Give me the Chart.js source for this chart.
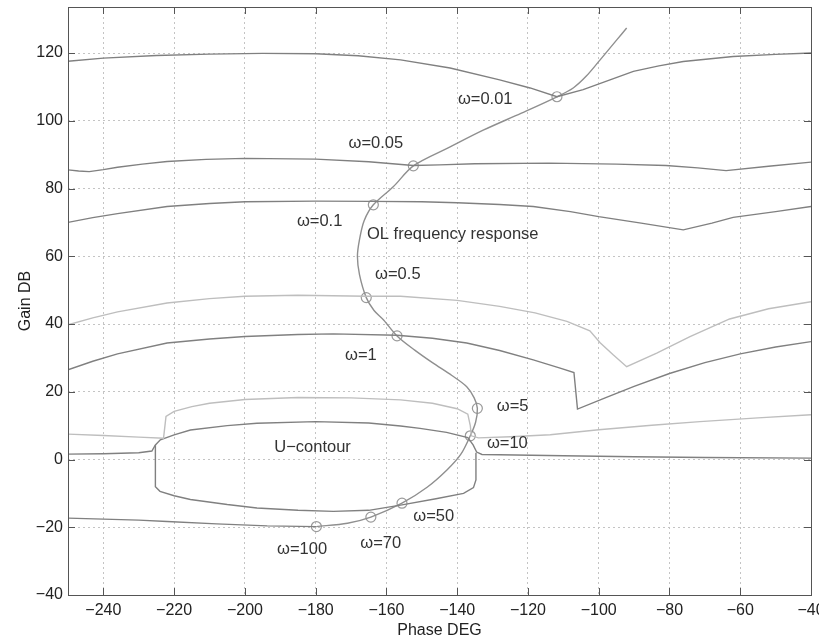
<!DOCTYPE html>
<html>
<head>
<meta charset="utf-8">
<script src="https://cdn.jsdelivr.net/npm/chart.js@4.4.1/dist/chart.umd.min.js"></script>
<style>
html,body{margin:0;padding:0;background:#ffffff;}
#wrap{width:819px;height:642px;position:relative;}
</style>
</head>
<body>
<div id="wrap"><canvas id="c" width="819" height="642"></canvas></div>
<script>
// ---- tick labels ----
const xTicks = [-240,-220,-200,-180,-160,-140,-120,-100,-80,-60,-40];
const yTicks = [-40,-20,0,20,40,60,80,100,120];

// ---- QFT bounds (phase deg, gain dB) ----
const boundW001 = [[-250,117.6],[-240,118.5],[-225,119.3],[-210,119.7],[-195,119.9],[-180,119.8],[-168,119.2],[-156,118.0],[-142,115.6],[-128,112.1],[-119.4,109.7],[-111.8,107.1],[-104.4,109.2],[-97,112.0],[-90.2,114.6],[-83,116.2],[-76.1,117.5],[-62,119.0],[-50,119.6],[-40,120.0]];
const boundW005 = [[-250,85.5],[-247,85.2],[-244,85.0],[-240,85.6],[-236,86.3],[-229,87.2],[-222,88.0],[-211,88.6],[-200,88.9],[-180,88.7],[-165,87.9],[-152.4,86.8],[-145,87.0],[-135,87.3],[-114,87.5],[-95,87.2],[-81,86.8],[-72,86.1],[-64,85.3],[-52,86.6],[-40,87.8]];
const boundW01 = [[-250,70.0],[-243,71.4],[-236,72.6],[-222,74.7],[-210,75.6],[-200,76.1],[-180,76.3],[-164,76.2],[-150,76.1],[-140,75.8],[-128,75.3],[-118.5,74.7],[-108,73.2],[-100,71.7],[-88,69.8],[-76.1,67.8],[-68,69.8],[-62,71.5],[-50,73.2],[-40,74.7]];
const boundW05 = [[-250,39.8],[-243,41.8],[-236,43.6],[-222,46.2],[-210,47.5],[-200,48.2],[-185,48.5],[-165.5,48.2],[-156,48.2],[-140,47.0],[-128,45.2],[-118,43.3],[-109,40.8],[-102.5,38.0],[-99.6,34.5],[-96,31.0],[-92.1,27.4],[-83.6,31.4],[-74.2,36.3],[-63,41.5],[-52,44.5],[-40,46.6]];
const boundW1 = [[-250,26.5],[-243,29.0],[-236,31.2],[-222,34.4],[-210,35.6],[-200,36.3],[-185,36.9],[-175,37.1],[-157,36.7],[-147,35.8],[-137.3,34.4],[-128,32.2],[-118.5,29.4],[-110.9,27.0],[-107,25.7],[-106,14.9],[-98,18.3],[-90,21.6],[-80,25.4],[-70,28.6],[-60,31.2],[-50,33.2],[-40,34.8]];
const boundW5 = [[-250,7.5],[-240,7.1],[-230,6.6],[-223,6.3],[-222.3,12.7],[-220,14.2],[-215,15.6],[-210,16.6],[-200,17.7],[-185,18.3],[-170,18.2],[-156,17.6],[-147,16.6],[-140,15.0],[-137,13.4],[-136.3,10.0],[-136,7.0],[-134,6.4],[-125,6.7],[-113.7,7.3],[-100,8.8],[-85,10.1],[-71.4,11.2],[-55,12.3],[-40,13.2]];
const boundW10 = [[-250,1.6],[-240,1.7],[-230,2.0],[-226.3,2.5],[-225.3,4.3],[-223.9,5.8],[-220,7.3],[-215.4,8.7],[-205,10.0],[-196.6,10.7],[-180,11.2],[-165,10.8],[-156,9.9],[-150.5,9.2],[-143,8.0],[-137,6.5],[-135.5,4.3],[-134.5,2.2],[-133,1.5],[-128,1.4],[-110,1.1],[-90,0.8],[-70,0.6],[-40,0.4]];
const uContourLower = [[-225.3,4.3],[-225.3,-8.0],[-224,-9.4],[-220,-10.7],[-215.4,-11.8],[-205,-13.3],[-196.6,-14.3],[-185,-15.0],[-175,-15.3],[-165,-15.0],[-155.6,-13.4],[-146,-11.6],[-138.2,-10.0],[-135.4,-8.3],[-134.7,-6.0],[-134.7,2.0]];
const boundW100 = [[-250,-17.3],[-240,-17.6],[-230,-17.9],[-222,-18.3],[-208,-19.0],[-193.7,-19.6],[-179.8,-19.8]];

// ---- open-loop frequency response ----
const olResponse = [[-92.1,127.4],[-94.9,123.9],[-99.6,118.0],[-103.5,113.2],[-107.2,109.7],[-111.8,107.1],[-122,102.2],[-132.5,97.3],[-142,92.3],[-152.4,86.7],[-158,80.6],[-163.7,75.2],[-166.3,70.5],[-167.6,65.0],[-168.2,60.0],[-167.6,54.5],[-165.7,47.8],[-163.5,44.0],[-160.8,41.2],[-157,36.5],[-152,32.3],[-147,28.6],[-141.5,24.8],[-137.3,21.5],[-135.2,18.2],[-134.3,15.1],[-134.8,11.0],[-136.3,7.0],[-139,1.5],[-142.9,-3.1],[-148.5,-8.2],[-155.6,-12.9],[-164.4,-17.0],[-171,-18.8],[-179.8,-19.8]];
const freqMarkers = [[-111.8,107.1],[-152.4,86.7],[-163.7,75.2],[-165.7,47.8],[-157,36.5],[-134.3,15.1],[-136.3,7.0],[-155.6,-12.9],[-164.4,-17.0],[-179.8,-19.8]];

// ---- text annotations ----
const labelTexts = ['ω=0.01','ω=0.05','ω=0.1','OL frequency response','ω=0.5','ω=1','ω=5','ω=10','U\u2212contour','ω=50','ω=70','ω=100'];
const labelX = [-139.8,-170.7,-185.3,-165.5,-163.2,-171.7,-128.8,-131.6,-191.7,-152.4,-167.4,-190.9];
const labelY = [106.2,93.4,70.3,66.3,54.5,30.6,15.6,4.6,3.5,-16.9,-24.7,-26.7];

const toPts = arr => arr.map(p => ({x:p[0], y:p[1]}));
const DARK = '#808080', LIGHT = '#bebebe', OLC = '#8f8f8f';
function lineSet(arr, color, tension){
  return {data: toPts(arr), showLine:true, borderColor:color, borderWidth:1.4, pointRadius:0, pointHoverRadius:0, tension: tension||0, fill:false};
}

const boxPlugin = {
  id:'box',
  afterDatasetsDraw(chart){
    const {ctx, chartArea:a, scales} = chart;
    ctx.save();
    ctx.strokeStyle = '#555';
    ctx.lineWidth = 1;
    ctx.strokeRect(a.left+0.5, a.top+0.5, a.right-a.left, a.bottom-a.top);
    ctx.beginPath();
    const tl = 7;
    xTicks.forEach(v => {
      const px = Math.round(scales.x.getPixelForValue(v))+0.5;
      ctx.moveTo(px, a.bottom); ctx.lineTo(px, a.bottom-tl);
      ctx.moveTo(px, a.top); ctx.lineTo(px, a.top+tl);
    });
    yTicks.forEach(v => {
      const py = Math.round(scales.y.getPixelForValue(v))+0.5;
      ctx.moveTo(a.left, py); ctx.lineTo(a.left+tl, py);
      ctx.moveTo(a.right, py); ctx.lineTo(a.right-tl, py);
    });
    ctx.stroke();
    // annotations
    ctx.fillStyle = '#333';
    ctx.font = '16.5px "Liberation Sans", Arial, sans-serif';
    ctx.textAlign = 'left';
    ctx.textBaseline = 'middle';
    labelTexts.forEach((t,i) => {
      ctx.fillText(t, scales.x.getPixelForValue(labelX[i]), scales.y.getPixelForValue(labelY[i]));
    });
    ctx.restore();
  }
};

const fmt = v => String(v).replace('-', '\u2212');

new Chart(document.getElementById('c'), {
  type:'scatter',
  data:{
    datasets:[
      lineSet(boundW001, DARK),
      lineSet(boundW005, DARK),
      lineSet(boundW01, DARK),
      lineSet(boundW05, LIGHT),
      lineSet(boundW1, DARK),
      lineSet(boundW5, LIGHT),
      lineSet(boundW10, DARK),
      lineSet(uContourLower, DARK),
      lineSet(boundW100, DARK),
      lineSet(olResponse, OLC, 0.3),
      {data: toPts(freqMarkers), showLine:false, pointRadius:5, pointStyle:'circle', borderColor:'#9a9a9a', backgroundColor:'rgba(0,0,0,0)', pointBorderWidth:1.2, pointHoverRadius:5}
    ]
  },
  options:{
    responsive:false,
    animation:false,
    events:[],
    layout:{padding:{left:0, right:8, top:7, bottom:0}},
    plugins:{legend:{display:false}, tooltip:{enabled:false}},
    scales:{
      x:{
        type:'linear', min:-250, max:-40,
        afterBuildTicks: s => { s.ticks = xTicks.map(v => ({value:v})); },
        afterFit: s => { s.height = 47; s.paddingLeft = 0; s.paddingRight = 0; },
        ticks:{callback: v => fmt(v), color:'#222', padding:6, maxRotation:0, autoSkip:false, font:{family:'"Liberation Sans", Arial, sans-serif', size:16}},
        grid:{color:'#c4c4c4', lineWidth:1, drawTicks:false},
        border:{display:false, dash:[2,3]},
        title:{display:true, text:'Phase DEG', color:'#222', padding:{top:0,bottom:2}, font:{family:'"Liberation Sans", Arial, sans-serif', size:16}}
      },
      y:{
        type:'linear', min:-40, max:133.6,
        afterBuildTicks: s => { s.ticks = yTicks.map(v => ({value:v})); },
        afterFit: s => { s.width = 68; s.paddingTop = 0; s.paddingBottom = 0; },
        ticks:{callback: v => fmt(v), color:'#222', padding:5, autoSkip:false, font:{family:'"Liberation Sans", Arial, sans-serif', size:16}},
        grid:{color:'#c4c4c4', lineWidth:1, drawTicks:false},
        border:{display:false, dash:[2,3]},
        title:{display:true, text:'Gain DB', color:'#222', padding:{top:16,bottom:0}, font:{family:'"Liberation Sans", Arial, sans-serif', size:16}}
      }
    }
  },
  plugins:[boxPlugin]
});
</script>
</body>
</html>
